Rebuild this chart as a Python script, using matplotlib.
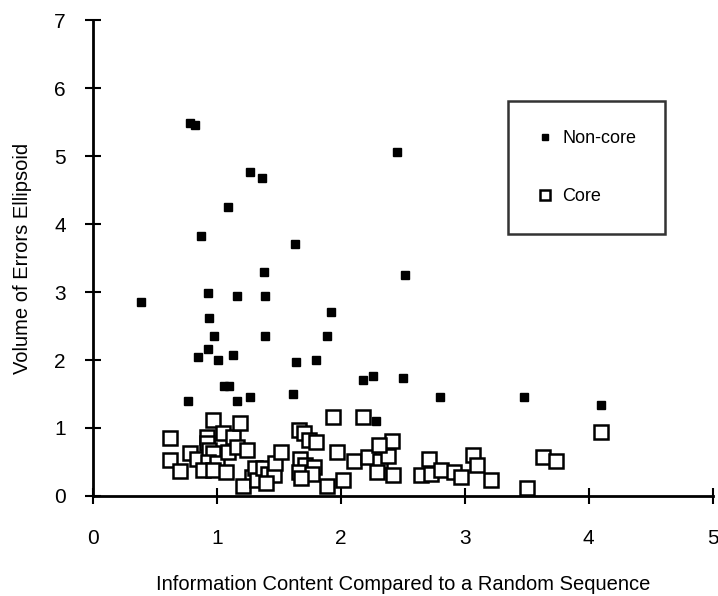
import matplotlib.pyplot as plt

plt.rcParams['font.family'] = ['Liberation Sans', 'DejaVu Sans']

# non-core proteins (filled squares)
noncore_x = [0.78, 0.82, 1.27, 1.36, 1.09, 0.87, 1.63, 1.38, 2.45, 2.52,
             0.39, 0.93, 1.16, 1.39, 0.94, 1.92, 0.98, 1.39, 1.89, 0.93,
             0.85, 1.01, 1.13, 1.64, 1.80, 2.18, 2.26, 1.06, 1.10, 1.61,
             0.77, 1.16, 1.27, 2.28, 2.50, 2.80, 3.48, 4.10]
noncore_y = [5.48, 5.46, 4.77, 4.68, 4.25, 3.82, 3.71, 3.29, 5.06, 3.25,
             2.86, 2.99, 2.94, 2.94, 2.62, 2.70, 2.35, 2.35, 2.35, 2.16,
             2.04, 2.00, 2.08, 1.97, 2.00, 1.70, 1.76, 1.62, 1.62, 1.50,
             1.40, 1.39, 1.45, 1.11, 1.73, 1.45, 1.45, 1.34]

# core proteins (open squares)
core_x = [0.62, 0.62, 0.70, 0.78, 0.84, 0.92, 0.92, 0.94, 0.97, 0.97,
          0.93, 1.00, 0.89, 0.97, 1.07, 1.05, 1.13, 1.19, 1.09, 1.16,
          1.24, 1.28, 1.21, 1.31, 1.32, 1.37, 1.41, 1.46, 1.40, 1.47,
          1.52, 1.66, 1.70, 1.74, 1.80, 1.67, 1.71, 1.78, 1.66, 1.77,
          1.68, 1.89, 1.94, 2.18, 1.97, 2.02, 2.11, 2.22, 2.32, 2.38,
          2.41, 2.31, 2.29, 2.42, 2.65, 2.71, 2.73, 2.81, 2.91, 2.97,
          3.07, 3.10, 3.21, 3.50, 3.63, 3.74, 4.10]
core_y = [0.85, 0.53, 0.37, 0.63, 0.55, 0.87, 0.78, 0.68, 1.12, 0.63,
          0.50, 0.48, 0.38, 0.38, 0.36, 0.92, 0.87, 1.07, 0.65, 0.72,
          0.68, 0.28, 0.14, 0.41, 0.24, 0.41, 0.32, 0.31, 0.19, 0.48,
          0.64, 0.97, 0.92, 0.83, 0.80, 0.54, 0.46, 0.43, 0.36, 0.33,
          0.26, 0.14, 1.16, 1.16, 0.65, 0.24, 0.52, 0.57, 0.52, 0.59,
          0.81, 0.75, 0.36, 0.31, 0.31, 0.54, 0.33, 0.38, 0.36, 0.28,
          0.61, 0.45, 0.24, 0.12, 0.57, 0.52, 0.94]

fig = plt.figure(figsize=(7.18, 5.96), dpi=100)
ax = fig.add_axes([0.1295, 0.1678, 0.863, 0.7986])

ax.plot(core_x, core_y, 's', ms=10.5, mfc='white', mec='black', mew=1.8,
        label='Core', zorder=2)
ax.plot(noncore_x, noncore_y, 's', ms=6, mfc='black', mec='black',
        label='Non-core', zorder=3)

ax.set_xlim(0, 5)
ax.set_ylim(0, 7)
ax.set_xticks(range(6))
ax.set_yticks(range(8))
for s in ['top', 'right']:
    ax.spines[s].set_visible(False)
for s in ['left', 'bottom']:
    ax.spines[s].set_linewidth(2)
ax.tick_params(direction='inout', length=11, width=1.5, labelsize=15,
               colors='black')
ax.tick_params(axis='y', pad=14)
ax.tick_params(axis='x', pad=18)

ax.set_xlabel('Information Content Compared to a Random Sequence',
              fontsize=14.5, labelpad=20)
ax.set_ylabel('Volume of Errors Ellipsoid', fontsize=14.5, labelpad=16)

h, l = ax.get_legend_handles_labels()
leg = ax.legend(h[::-1], l[::-1], loc='upper left',
                bbox_to_anchor=(0.67, 0.83), fontsize=13, frameon=True,
                fancybox=False, edgecolor='black', labelspacing=2.3,
                borderpad=1.6, handletextpad=0.5, markerscale=0.7,
                handlelength=0.9, borderaxespad=0)
leg.get_frame().set_linewidth(1.8)

plt.savefig('out.png', dpi=100)
